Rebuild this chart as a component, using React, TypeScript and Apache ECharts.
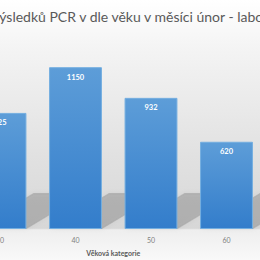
import React, { useEffect, useRef } from "react";
import * as echarts from "echarts";

const categories = ["30", "40", "50", "60"];
const values = [825, 1150, 932, 620];
const titleText = "výsledků PCR v dle věku v měsíci únor - laboratoř";
const axisName = "Věková kategorie";

export default function App() {
  const ref = useRef<HTMLDivElement>(null);
  useEffect(() => {
    if (!ref.current) return;
    const chart = echarts.init(ref.current, null, { renderer: "svg" });
    const font = "Lato, 'Noto Sans', sans-serif";
    chart.setOption({
      animation: false,
      backgroundColor: {
        type: "linear",
        x: 0, y: 0, x2: 0, y2: 1,
        colorStops: [
          { offset: 0, color: "#ffffff" },
          { offset: 0.2, color: "#f3f3f3" },
          { offset: 0.6, color: "#e1e1e1" },
          { offset: 0.878, color: "#d7d7d7" },
          { offset: 0.884, color: "#eeeeee" },
          { offset: 1, color: "#f9f9f9" },
        ],
      },
      title: {
        text: titleText,
        left: -13,
        top: 4,
        textStyle: { color: "#595959", fontSize: 14, fontWeight: "normal", fontFamily: font },
      },
      grid: { left: -37.75, right: -4.25, top: 32, bottom: 31, containLabel: false, outerBoundsMode: "none" },
      xAxis: {
        type: "category",
        data: categories,
        axisLine: { show: false },
        axisTick: { show: false },
        axisLabel: { color: "#7f7f7f", fontSize: 7, fontFamily: font, margin: 7 },
        name: axisName,
        nameLocation: "middle",
        nameGap: 20,
        nameTextStyle: { color: "#595959", fontSize: 7, fontWeight: "bold", fontFamily: font },
      },
      yAxis: { type: "value", min: 0, max: 1400, show: false, splitLine: { show: false } },
      series: [
        {
          type: "custom",
          silent: true,
          z: 1,
          data: values.map((v, i) => [i, v]),
          renderItem: (params: any, api: any) => {
            const base = api.coord([api.value(0), 0]);
            const band = api.size([1, 0])[0];
            const w = band * 0.7;
            const x0 = base[0] - w / 2;
            const x1 = base[0] + w / 2;
            const s = 60;
            const d = 36;
            return {
              type: "polygon",
              shape: {
                points: [
                  [x0, base[1]],
                  [x1, base[1]],
                  [x1 + s, base[1] - d],
                  [x0 + s, base[1] - d],
                ],
              },
              style: { fill: "rgba(60,60,60,0.22)", shadowBlur: 4, shadowColor: "rgba(60,60,60,0.25)" },
            };
          },
        },
        {
          type: "bar",
          z: 2,
          data: values,
          barCategoryGap: "30%",
          itemStyle: {
            borderColor: "#74aee0",
            borderWidth: 1,
            color: {
              type: "linear",
              x: 0, y: 0, x2: 0, y2: 1,
              colorStops: [
                { offset: 0, color: "#5d9dd8" },
                { offset: 1, color: "#337dcb" },
              ],
            },
          },
          label: {
            show: true,
            position: "insideTop",
            distance: 6,
            color: "#ffffff",
            fontSize: 7.5,
            fontWeight: "bold",
            fontFamily: font,
          },
        },
      ],
    });
    return () => chart.dispose();
  }, []);
  return <div ref={ref} style={{ position: "fixed", left: 0, top: 0, width: 260, height: 260 }} />;
}
